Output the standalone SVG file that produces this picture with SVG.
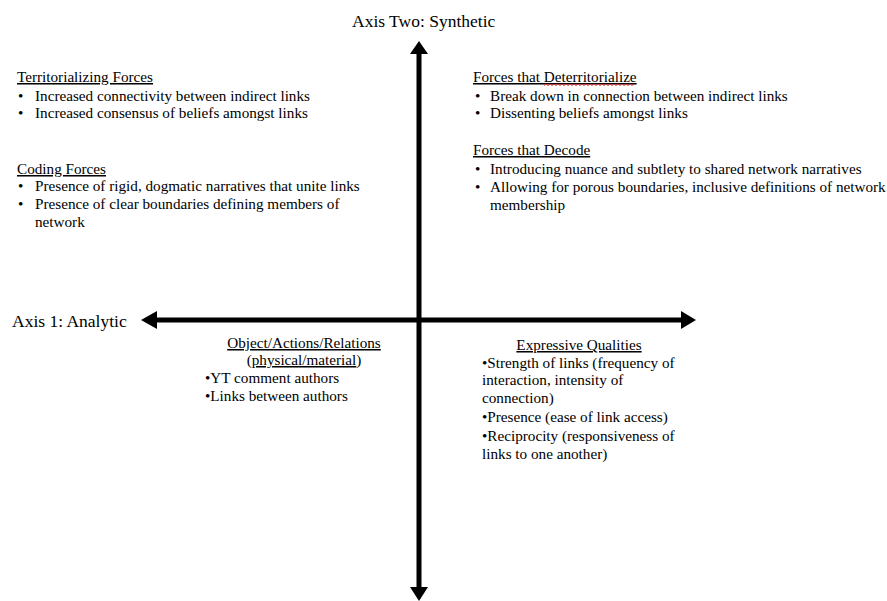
<svg xmlns="http://www.w3.org/2000/svg" width="887" height="601" viewBox="0 0 887 601">
<style>
text{font-family:"Liberation Serif","Times New Roman",serif;fill:#000;font-size:15.2px}
.axis{font-size:17.5px}
.u{text-decoration:underline}
.ax{stroke:#000;stroke-width:5;fill:none}
.ah{fill:#000}
</style>
<rect width="887" height="601" fill="#fff"/>
<g id="connectors">
<line class="ax" x1="419" y1="50" x2="419" y2="592"/>
<polygon class="ah" points="419,41 428,54 410,54"/>
<polygon class="ah" points="419,601 428,587 410,587"/>
<line class="ax" x1="150" y1="320" x2="688" y2="320"/>
<polygon class="ah" points="141,320 157,311 157,329"/>
<polygon class="ah" points="696,320 681,311 681,329"/>
</g>
<g id="axis-two">
<text class="axis" x="352" y="27">Axis Two: Synthetic</text>
</g>
<g id="axis-one">
<text class="axis" x="12" y="327">Axis 1: Analytic</text>
</g>
<g id="territorializing">
<text class="u" x="17" y="82">Territorializing Forces</text>
<text x="18" y="101">•</text><text x="35" y="101">Increased connectivity between indirect links</text>
<text x="18" y="118">•</text><text x="35" y="118">Increased consensus of beliefs amongst links</text>
</g>
<g id="coding">
<text class="u" x="17" y="174">Coding Forces</text>
<text x="18" y="191">•</text><text x="35" y="191">Presence of rigid, dogmatic narratives that unite links</text>
<text x="18" y="209">•</text><text x="35" y="209">Presence of clear boundaries defining members of</text>
<text x="35" y="227">network</text>
</g>
<g id="deterritorialize">
<text class="u" x="473" y="82">Forces that Deterritorialize</text>
<path d="M544,85.5 l2,-1.5 l2,1.5 l2,-1.5 l2,1.5 l2,-1.5 l2,1.5 l2,-1.5 l2,1.5 l2,-1.5 l2,1.5 l2,-1.5 l2,1.5 l2,-1.5 l2,1.5 l2,-1.5 l2,1.5 l2,-1.5 l2,1.5 l2,-1.5 l2,1.5 l2,-1.5 l2,1.5 l2,-1.5 l2,1.5 l2,-1.5 l2,1.5 l2,-1.5 l2,1.5 l2,-1.5 l2,1.5 l2,-1.5 l2,1.5 l2,-1.5 l2,1.5 l2,-1.5 l2,1.5 l2,-1.5 l2,1.5 l2,-1.5 l2,1.5 l2,-1.5 l2,1.5 l2,-1.5 l2,1.5 l2,-1.5" fill="none" stroke="#d33" stroke-width="1"/>
<text x="475" y="101">•</text><text x="490" y="101">Break down in connection between indirect links</text>
<text x="475" y="118">•</text><text x="490" y="118">Dissenting beliefs amongst links</text>
</g>
<g id="decode">
<text class="u" x="473" y="155">Forces that Decode</text>
<text x="475" y="174">•</text><text x="490" y="174">Introducing nuance and subtlety to shared network narratives</text>
<text x="475" y="192">•</text><text x="490" y="192">Allowing for porous boundaries, inclusive definitions of network</text>
<text x="490" y="210">membership</text>
</g>
<g id="objects">
<text class="u" x="304" y="348" text-anchor="middle">Object/Actions/Relations</text>
<text x="304" y="365" text-anchor="middle">(<tspan class="u">physical/material</tspan>)</text>
<text x="205" y="383">•YT comment authors</text>
<text x="205" y="401">•Links between authors</text>
</g>
<g id="expressive">
<text class="u" x="579" y="350" text-anchor="middle">Expressive Qualities</text>
<text x="482" y="368">•Strength of links (frequency of</text>
<text x="482" y="385">interaction, intensity of</text>
<text x="482" y="403">connection)</text>
<text x="482" y="422">•Presence (ease of link access)</text>
<text x="482" y="441">•Reciprocity (responsiveness of</text>
<text x="482" y="459">links to one another)</text>
</g>
</svg>
